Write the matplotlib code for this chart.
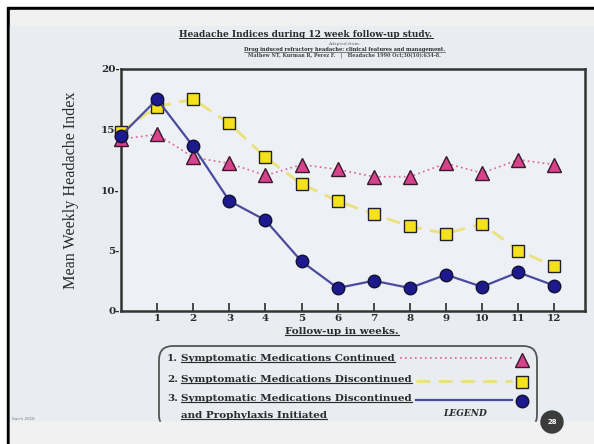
import matplotlib
matplotlib.use("Agg")
import matplotlib.pyplot as plt
from matplotlib.patches import Rectangle, FancyBboxPatch, Circle
from matplotlib.lines import Line2D

# ---------------------------------------------------------------------------
# Data
# ---------------------------------------------------------------------------

weeks = list(range(13))
continued = [14.2, 14.6, 12.7, 12.2, 11.2, 12.1, 11.7, 11.1, 11.1, 12.2, 11.4, 12.5, 12.1]
discontinued = [14.8, 16.9, 17.5, 15.5, 12.7, 10.5, 9.1, 8.0, 7.0, 6.4, 7.2, 5.0, 3.7]
prophylaxis = [14.5, 17.5, 13.6, 9.1, 7.5, 4.1, 1.9, 2.5, 1.9, 3.0, 2.0, 3.2, 2.1]

x_ticks = list(range(1, 13))
y_ticks = [0, 5, 10, 15, 20]
y_tick_labels = [f"{v}-" for v in y_ticks]

legend_labels = [
    "Symptomatic Medications Continued",
    "Symptomatic Medications Discontinued",
    "Symptomatic Medications Discontinued",
]

PINK = "#d8418c"
YELLOW = "#f6e21c"
NAVY = "#1c1a8e"
INK = "#2a2a2a"
SERIF = "DejaVu Serif"

W, H = 594, 444
fig = plt.figure(figsize=(W / 100, H / 100), dpi=100)
fig.patch.set_facecolor("white")

# background in pixel coordinates
bg = fig.add_axes([0, 0, 1, 1], zorder=-5)
bg.set_xlim(0, W)
bg.set_ylim(H, 0)
bg.axis("off")
bg.add_patch(Rectangle((7, 7), W, H, color="black"))
bg.add_patch(Rectangle((10, 10), W, H, color="#f1f1f1"))
bg.add_patch(Rectangle((10, 26), W, 396, color="#e9edf1"))

# ---------------------------------------------------------------------------
# Main plot
# ---------------------------------------------------------------------------

ax = fig.add_axes([121 / W, 1 - 311 / H, (585 - 121) / W, (311 - 69) / H])
ax.set_facecolor("#edf0f4")
ax.plot(weeks, continued, linestyle=(0, (1, 2)), color="#d9609a", linewidth=1.2,
        marker="^", markersize=10, markerfacecolor=PINK, markeredgecolor="#3a1a2a",
        markeredgewidth=1.0, clip_on=False, zorder=3)
ax.plot(weeks, discontinued, linestyle=(0, (5, 3)), color="#ebe27a", linewidth=2.0,
        marker="s", markersize=8, markerfacecolor=YELLOW, markeredgecolor="#222222",
        markeredgewidth=1.0, clip_on=False, zorder=3)
ax.plot(weeks, prophylaxis, linestyle="-", color="#4a4a9e", linewidth=1.6,
        marker="o", markersize=9, markerfacecolor=NAVY, markeredgecolor="#111133",
        markeredgewidth=1.0, clip_on=False, zorder=4)

ax.set_xlim(0, 12.85)
ax.set_ylim(0, 20)
ax.set_xticks(x_ticks)
ax.set_xticklabels([str(t) for t in x_ticks], fontfamily=SERIF, fontweight="bold",
                   fontsize=7.5, color=INK)
ax.set_yticks(y_ticks)
ax.set_yticklabels(y_tick_labels, fontfamily=SERIF, fontweight="bold",
                   fontsize=7.5, color=INK)
ax.tick_params(axis="x", direction="in", length=6, width=1.2, color=INK, pad=2)
ax.tick_params(axis="y", direction="out", length=0, pad=1)
for spine in ax.spines.values():
    spine.set_color("#333333")
    spine.set_linewidth(1.8)
ax.set_ylabel("Mean Weekly Headache Index", fontfamily="Liberation Serif",
              fontsize=11.6, color=INK, labelpad=16)

# ---------------------------------------------------------------------------
# Slide texts
# ---------------------------------------------------------------------------

underlined = []


def put(x, y, s, size, weight="normal", ha="left", style="normal", under=False,
        color=INK, family=SERIF):
    t = bg.text(x, y, s, fontsize=size, fontweight=weight, ha=ha, va="baseline",
                fontstyle=style, color=color, fontfamily=family)
    if under:
        underlined.append(t)
    return t


put(306, 37, "Headache Indices during 12 week follow-up study.", 6.5, "bold",
    ha="center", under=True)
put(344, 45, "Adapted from:", 3.2, ha="center", color="#666666")
put(344, 51, "Drug induced refractory headache: clinical features and management.",
    3.7, "bold", ha="center", under=True)
put(344, 57, "Mathew NT, Kurman R, Perez F.   |   Headache 1990 Oct;30(10):634-8.",
    3.5, "bold", ha="center", color="#444444")

put(342, 334, "Follow-up in weeks.", 7.5, "bold", ha="center", under=True)

# legend box
bg.add_patch(FancyBboxPatch((159, 346), 378, 83, boxstyle="round,pad=0,rounding_size=14",
                            facecolor="none", edgecolor="#555555", linewidth=1.3))
rows_y = [361, 382, 401]
for i, (label, y) in enumerate(zip(legend_labels, rows_y)):
    put(167, y, f"{i + 1}.", 7.5, "bold")
    put(181, y, label, 7.5, "bold", under=True)
put(181, 418, "and Prophylaxis Initiated", 7.5, "bold", under=True)
put(443, 416, "LEGEND", 6.5, "bold", style="italic")

bg.add_line(Line2D([400, 514], [358, 358], color="#d9609a", linewidth=1.2,
                   linestyle=(0, (1, 2))))
bg.add_line(Line2D([416, 512], [381, 381], color="#ebe27a", linewidth=2.0,
                   linestyle=(0, (5, 3))))
bg.add_line(Line2D([416, 512], [400, 400], color="#4a4a9e", linewidth=1.6))
bg.plot([522], [360], marker="^", markersize=10, markerfacecolor=PINK,
        markeredgecolor="#3a1a2a", markeredgewidth=1.0)
bg.plot([522], [382], marker="s", markersize=8, markerfacecolor=YELLOW,
        markeredgecolor="#222222", markeredgewidth=1.0)
bg.plot([522], [401], marker="o", markersize=9, markerfacecolor=NAVY,
        markeredgecolor="#111133", markeredgewidth=1.0)

# bottom strip covers the lower edge of the legend box
bg.add_patch(Rectangle((10, 422), W, 30, color="#f1f1f1", zorder=5))
bg.add_patch(Circle((552, 422), 11, color="#3c3c3c", zorder=6))
bg.text(552, 422, "28", fontsize=5, color="white", ha="center", va="center",
        fontweight="bold", zorder=7)
bg.text(12, 420, "Sun's 2016", fontsize=3, color="#777777", va="baseline")

# underline the slide headings
fig.canvas.draw()
renderer = fig.canvas.get_renderer()
inv = bg.transData.inverted()
for t in underlined:
    ext = t.get_window_extent(renderer)
    (x0, y0), (x1, _) = inv.transform([[ext.x0, ext.y0], [ext.x1, ext.y1]])
    size = t.get_fontsize()
    bg.add_line(Line2D([x0, x1], [t.get_position()[1] + size * 0.18] * 2,
                       color=t.get_color(), linewidth=max(0.4, size / 9)))

fig.savefig("out.png", dpi=100)
